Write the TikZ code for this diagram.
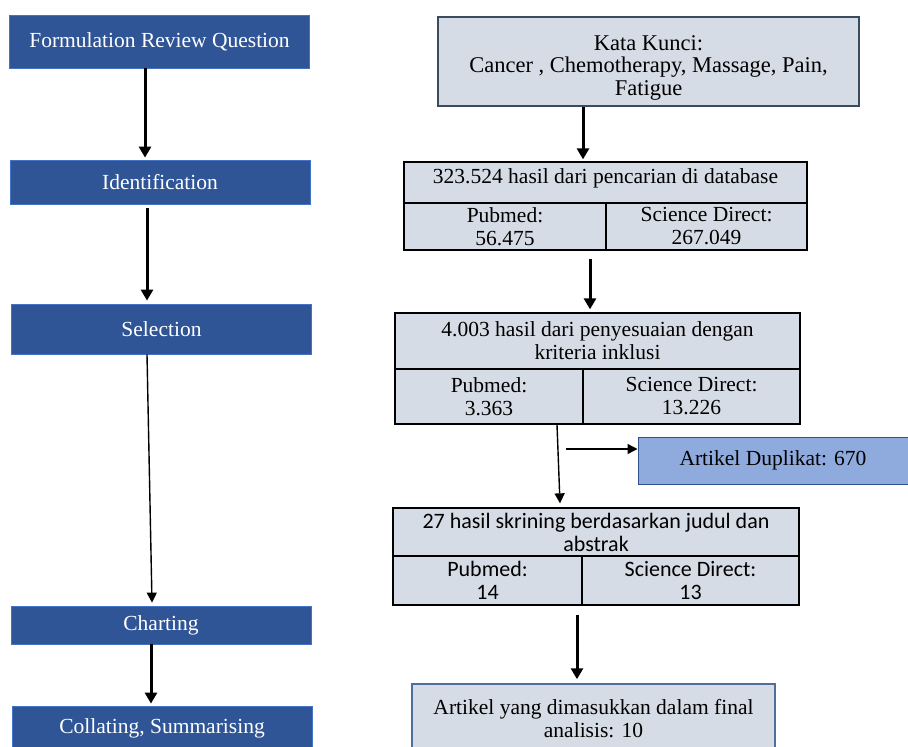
\documentclass[tikz,border=0pt]{standalone}
\usepackage{fontspec}
\setmainfont{Liberation Serif}
\newfontfamily\calibfont{Carlito}
\usetikzlibrary{arrows.meta}
\definecolor{stageblue}{RGB}{47,85,151}
\definecolor{stageedge}{RGB}{68,114,196}
\definecolor{cellback}{RGB}{214,220,229}
\definecolor{dupback}{RGB}{143,170,220}
\definecolor{dupedge}{RGB}{47,82,143}
\definecolor{kataedge}{RGB}{59,75,94}
\definecolor{finaledge}{RGB}{79,111,154}
\tikzset{
  stage/.style={fill=stageblue,draw=stageedge,line width=0.8pt,text=white,inner sep=0pt,
    minimum width=300pt,font=\fontsize{21.5}{23}\selectfont},
  cell/.style={fill=cellback,draw=black,line width=1.3pt,inner sep=0pt,align=center,
    font=\fontsize{21.5}{23}\selectfont},
  thickarr/.style={line width=3pt,-{Triangle[length=11pt,width=12pt]}},
  thinarr/.style={line width=1.4pt,-{Triangle[length=10pt,width=10pt]}}
}

\begin{document}
\begin{tikzpicture}[x=1pt,y=-1pt]
\useasboundingbox (0,0) rectangle (908,747);

\node[stage,minimum height=53pt] (frq) at (159.5,41.5) {Formulation Review Question};
\node[stage,minimum height=44pt] (ident) at (160,182) {Identification};
\node[stage,minimum height=50pt] (sel) at (161.5,329) {Selection};
\node[stage,minimum height=38pt] (chart) at (161,625) {Charting};
\node[stage,minimum height=44pt] (coll) at (162,728) {Collating, Summarising};

\node[cell,draw=kataedge,line width=2pt,minimum width=421pt,minimum height=89pt,
  font=\fontsize{22.5}{22.5}\selectfont] (kata) at (648.5,61.5)
  {\rule{0pt}{27pt}Kata Kunci:\\Cancer , Chemotherapy, Massage, Pain,\\Fatigue};

\node[cell,minimum width=403pt,minimum height=41pt,text depth=13pt] (t323) at (605.5,182.5)
  {323.524 hasil dari pencarian di database};
\node[cell,minimum width=202pt,minimum height=47pt] (l323) at (505,226.5) {Pubmed:\\56.475};
\node[cell,minimum width=201pt,minimum height=47pt] (r323) at (706.5,226.5) {Science Direct:\\267.049};

\node[cell,minimum width=405pt,minimum height=56pt] (t4003) at (597.5,341)
  {4.003 hasil dari penyesuaian dengan\\kriteria inklusi};
\node[cell,minimum width=188pt,minimum height=55pt] (l4003) at (489,396.5) {Pubmed:\\3.363};
\node[cell,minimum width=217pt,minimum height=55pt] (r4003) at (691.5,396.5) {Science Direct:\\13.226};

\node[cell,fill=dupback,draw=dupedge,line width=1pt,minimum width=270pt,minimum height=47pt]
  (dup) at (773,460.5) {Artikel Duplikat: 670};

\node[cell,minimum width=406pt,minimum height=48pt,font=\calibfont\fontsize{22}{23}\selectfont]
  (t27) at (596,532) {27 hasil skrining berdasarkan judul dan\\abstrak};
\node[cell,minimum width=189pt,minimum height=49pt,font=\calibfont\fontsize{22}{23}\selectfont]
  (l27) at (487.5,580.5) {Pubmed:\\14};
\node[cell,minimum width=217pt,minimum height=49pt,font=\calibfont\fontsize{22}{23}\selectfont]
  (r27) at (690.5,580.5) {Science Direct:\\13};

\node[cell,draw=finaledge,line width=1.5pt,minimum width=363pt,minimum height=70pt]
  (final) at (593.5,719) {Artikel yang dimasukkan dalam final\\analisis: 10};

\draw[thickarr] ([xshift=-14.5pt]frq.south) -- ([xshift=-15pt,yshift=2pt]ident.north);
\draw[thickarr] ([xshift=-13pt,yshift=-4pt]ident.south) -- ([xshift=-14.5pt,yshift=3pt]sel.north);
\draw[thinarr] ([xshift=-14.5pt]sel.south) -- ([xshift=-9pt,yshift=3pt]chart.north);
\draw[thickarr] ([xshift=-10pt]chart.south) -- ([xshift=-11pt,yshift=2pt]coll.north);

\draw[thickarr] ([xshift=-65.5pt]kata.south) -- ([xshift=-22.5pt,yshift=2pt]t323.north);
\draw[thickarr] ([xshift=85pt,yshift=-8pt]l323.south) -- ([xshift=-7.5pt,yshift=3pt]t4003.north);
\draw[thinarr] ([xshift=68pt]l4003.south) -- ([xshift=-36pt,yshift=4pt]t27.north);
\coordinate (dupfork) at (566,449);
\draw[thinarr] (dupfork) -- ([yshift=11.5pt]dup.west);
\draw[thickarr] ([xshift=89.5pt,yshift=-9pt]l27.south) -- ([xshift=-16.5pt,yshift=4pt]final.north);
\end{tikzpicture}
\end{document}
